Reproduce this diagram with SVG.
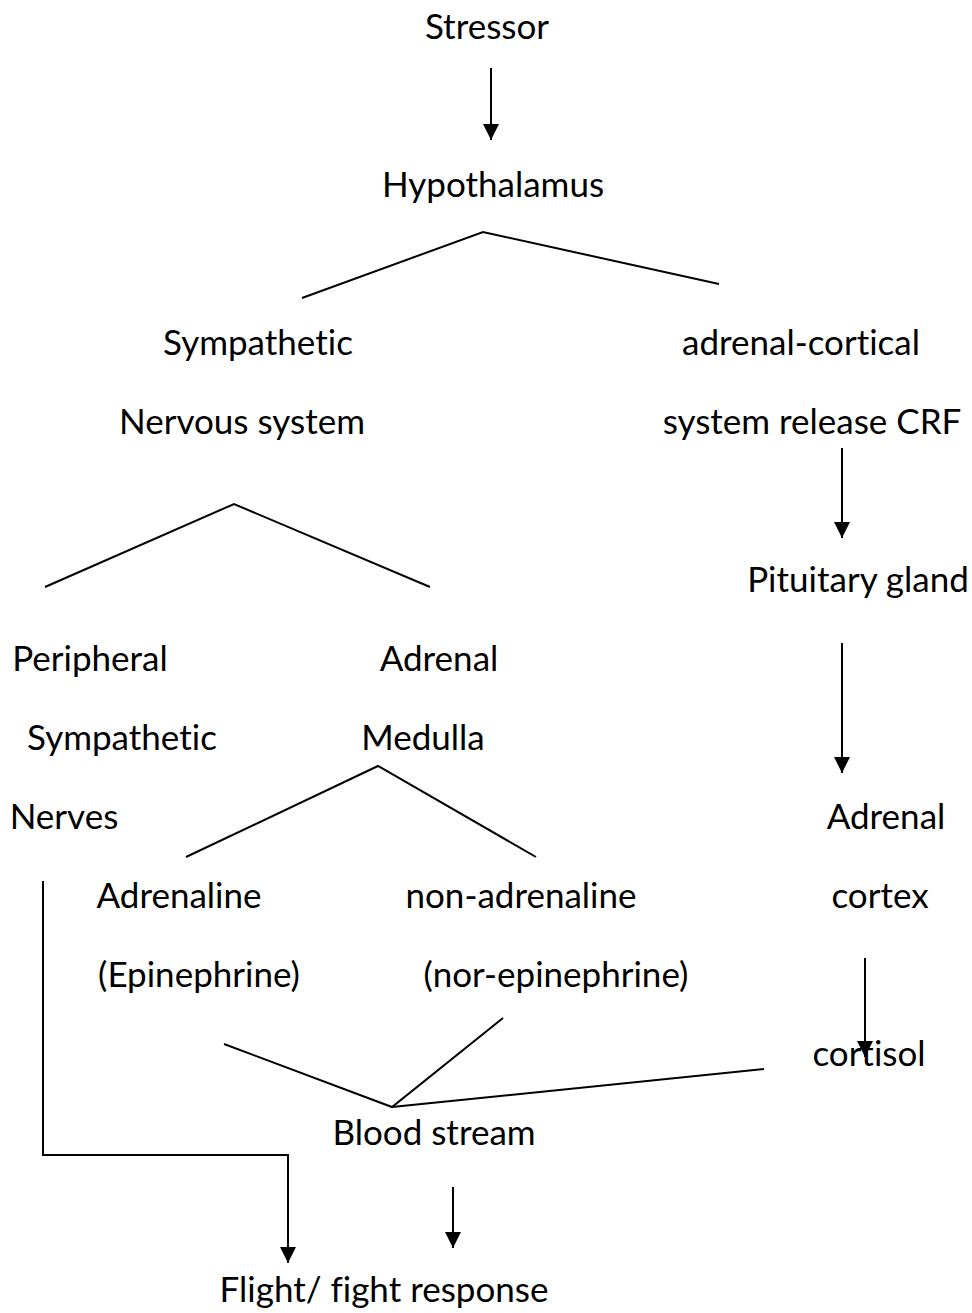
<svg xmlns="http://www.w3.org/2000/svg" width="972" height="1313" viewBox="0 0 972 1313">
<defs>
<style>
text{font-family:Lato,"Open Sans","Liberation Sans",sans-serif;font-size:35px;fill:#000;text-anchor:middle;font-variant-ligatures:none}
.c line,.c polyline{stroke:#000;stroke-width:2;fill:none}
</style>
<marker id="a" viewBox="0 0 16 16" refX="16" refY="8" markerWidth="16" markerHeight="16" markerUnits="userSpaceOnUse" orient="auto">
<path d="M0,0 L16,8 L0,16 z" fill="#000"/>
</marker>
</defs>
<rect width="972" height="1313" fill="#fff"/>
<g class="c">
<line x1="491" y1="68" x2="491" y2="140" marker-end="url(#a)"/>
<polyline points="302,298 483,232 719,284"/>
<line x1="842" y1="448" x2="842" y2="538" marker-end="url(#a)"/>
<line x1="842" y1="643" x2="842" y2="773" marker-end="url(#a)"/>
<line x1="865" y1="958" x2="865" y2="1057" marker-end="url(#a)"/>
<polyline points="45,587 234,504 430,587"/>
<polyline points="186,857 378,766 536,857"/>
<polyline points="224,1044 392,1107 503,1018"/>
<line x1="392" y1="1107" x2="764" y2="1069"/>
<polyline points="43,881 43,1155 288,1155 288,1263" marker-end="url(#a)"/>
<line x1="453" y1="1187" x2="453" y2="1248" marker-end="url(#a)"/>
</g>
<g id="stressor"><text x="487" y="39">Stressor</text></g>
<g id="hypothalamus"><text x="493" y="197">Hypothalamus</text></g>
<g id="sns"><text x="258" y="355">Sympathetic</text><text x="242" y="434">Nervous system</text></g>
<g id="adrenal-cortical"><text x="801" y="355">adrenal-cortical</text><text x="812" y="434">system release CRF</text></g>
<g id="pituitary"><text x="858" y="592">Pituitary gland</text></g>
<g id="peripheral"><text x="90" y="671">Peripheral</text><text x="122" y="750">Sympathetic</text><text x="64" y="829">Nerves</text></g>
<g id="adrenal-medulla"><text x="439" y="671">Adrenal</text><text x="423" y="750">Medulla</text></g>
<g id="adrenal-cortex"><text x="886" y="829">Adrenal</text><text x="880" y="908">cortex</text></g>
<g id="adrenaline"><text x="179" y="908">Adrenaline</text><text x="199" y="987">(Epinephrine)</text></g>
<g id="nonadrenaline"><text x="521" y="908">non-adrenaline</text><text x="556" y="987">(nor-epinephrine)</text></g>
<g id="cortisol"><text x="869" y="1066">cortisol</text></g>
<g id="blood"><text x="434" y="1145">Blood stream</text></g>
<g id="flight"><text x="384" y="1302">Flight/ fight response</text></g>
</svg>
